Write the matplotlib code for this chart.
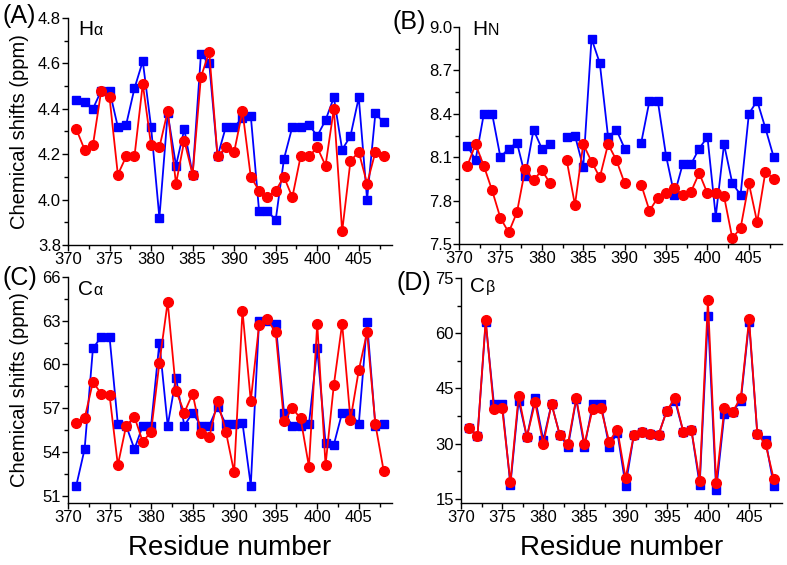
import matplotlib
matplotlib.use("Agg")
import matplotlib.pyplot as plt
import numpy as np
from matplotlib.ticker import MultipleLocator

plt.rcParams["font.family"] = ["Liberation Sans", "DejaVu Sans"]

residues = np.arange(371, 409)
nan = np.nan

ha_blue = [4.44, 4.43, 4.40, 4.48, 4.48, 4.32, 4.33, 4.49, 4.61, 4.32,
           3.92, 4.38, 4.15, 4.31, 4.11, 4.64, 4.60, 4.19, 4.32, 4.32,
           4.36, 4.37, 3.95, 3.95, 3.91, 4.18, 4.32, 4.32, 4.33, 4.28,
           4.35, 4.45, 4.22, 4.28, 4.45, 4.00, 4.38, 4.34]
ha_red = [4.31, 4.22, 4.24, 4.48, 4.45, 4.11, 4.19, 4.19, 4.51, 4.24,
          4.23, 4.39, 4.07, 4.26, 4.11, 4.54, 4.65, 4.19, 4.23, 4.21,
          4.39, 4.10, 4.04, 4.01, 4.04, 4.10, 4.01, 4.19, 4.19, 4.23,
          4.15, 4.40, 3.86, 4.17, 4.21, 4.07, 4.21, 4.19]

hn_blue = [8.18, 8.08, 8.40, 8.40, 8.10, 8.16, 8.20, 7.97, 8.29, 8.16,
           8.19, nan, 8.24, 8.25, 8.03, 8.92, 8.75, 8.24, 8.29, 8.16,
           nan, 8.20, 8.49, 8.49, 8.11, 7.84, 8.05, 8.05, 8.16, 8.24,
           7.69, 8.19, 7.92, 7.84, 8.40, 8.49, 8.30, 8.10]
hn_red = [8.04, 8.19, 8.04, 7.87, 7.68, 7.58, 7.72, 8.02, 7.94, 8.01,
          7.92, nan, 8.08, 7.77, 8.19, 8.07, 7.96, 8.19, 8.08, 7.92,
          nan, 7.91, 7.73, 7.82, 7.85, 7.89, 7.84, 7.86, 7.99, 7.85,
          7.85, 7.83, 7.54, 7.61, 7.92, 7.65, 8.00, 7.95]

ca_blue = [51.7, 54.2, 61.1, 61.9, 61.9, 55.9, 55.8, 54.2, 55.8, 55.8,
           61.5, 55.8, 59.1, 55.8, 56.7, 55.8, 55.8, 57.1, 55.9, 55.9,
           56.0, 51.7, 63.0, 63.0, 62.8, 56.7, 55.8, 55.8, 55.9, 61.1,
           54.6, 54.5, 56.7, 56.7, 55.9, 62.9, 55.8, 55.9]
ca_red = [56.0, 56.3, 58.8, 58.0, 57.9, 53.1, 55.8, 56.4, 54.7, 55.4,
          60.1, 64.3, 58.2, 56.7, 58.0, 55.3, 55.0, 57.5, 55.4, 52.6,
          63.7, 57.5, 62.7, 63.1, 62.2, 56.1, 57.0, 56.3, 53.0, 62.8,
          53.1, 58.6, 62.8, 56.2, 59.6, 62.2, 55.9, 52.7]

cb_blue = [34.4, 32.0, 63.0, 40.8, 40.8, 18.8, 41.7, 31.8, 42.4, 31.0,
           40.8, 32.4, 29.2, 42.1, 29.0, 40.8, 40.8, 29.2, 33.0, 18.6,
           32.4, 33.3, 32.7, 32.4, 39.0, 41.7, 33.3, 33.6, 18.8, 64.7,
           17.3, 38.1, 38.7, 41.7, 63.0, 32.7, 31.0, 18.6]
cb_red = [34.4, 32.0, 63.6, 39.4, 39.6, 19.5, 43.0, 31.8, 41.2, 30.0,
          40.8, 32.4, 30.0, 42.4, 30.0, 39.4, 39.6, 30.6, 33.8, 20.6,
          32.4, 33.3, 32.7, 32.4, 39.0, 42.4, 33.3, 33.6, 20.0, 68.9,
          19.3, 39.6, 38.7, 42.5, 63.8, 32.7, 29.9, 20.4]

W, H = 787, 565
fig = plt.figure(figsize=(W / 100, H / 100), dpi=100)
renderer = fig.canvas.get_renderer()


def px_axes(l, t, r, b):
    return fig.add_axes([l / W, 1 - b / H, (r - l) / W, (b - t) / H])


panels = [
    # box (px), ylim, ystep, blue, red, letter, atom, sub
    ((68, 18, 392, 245), (3.8, 4.8), 0.2, ha_blue, ha_red, "(A)", "H", "\u03b1"),
    ((459, 27, 782, 244), (7.5, 9.0), 0.3, hn_blue, hn_red, "(B)", "H", "N"),
    ((68, 277, 392, 503), (50.5, 66), 3, ca_blue, ca_red, "(C)", "C", "\u03b1"),
    ((461, 278, 782, 503), (13.9, 75), 15, cb_blue, cb_red, "(D)", "C", "\u03b2"),
]
# letter position, atom label position (px)
letter_pos = [(2, 16), (393, 22), (2, 278), (396, 283)]
atom_pos = [(78, 35), (472, 35), (78, 295), (470, 292)]

for i, (box, ylim, ystep, blue, red, letter, atom, sub) in enumerate(panels):
    ax = px_axes(*box)
    ax.plot(residues, blue, color="#0000ff", marker="s", markersize=6,
            linewidth=1.3)
    ax.plot(residues, red, color="#ff0000", marker="o", markersize=7,
            linewidth=1.3)
    ax.set_xlim(370, 409)
    ax.set_ylim(*ylim)
    ax.xaxis.set_major_locator(MultipleLocator(5))
    ax.xaxis.set_minor_locator(MultipleLocator(2.5))
    ax.yaxis.set_major_locator(MultipleLocator(ystep))
    ax.yaxis.set_minor_locator(MultipleLocator(ystep / 2))
    if ystep < 1:
        ax.yaxis.set_major_formatter(plt.FormatStrFormatter("%.1f"))
    else:
        ax.yaxis.set_major_formatter(plt.FormatStrFormatter("%d"))
    for s in ("top", "right"):
        ax.spines[s].set_visible(False)
    for s in ("left", "bottom"):
        ax.spines[s].set_linewidth(1.0)
    ax.tick_params(which="major", direction="out", length=4, width=1,
                   labelsize=12, pad=1)
    ax.tick_params(which="minor", direction="out", length=3, width=1)

    # atom label with smaller greek / N on the same baseline
    axp, ayp = atom_pos[i]
    t = fig.text(axp / W, 1 - ayp / H, atom, fontsize=15, ha="left",
                 va="baseline")
    bb = t.get_window_extent(renderer)
    fig.text(bb.x1 / W + 0.5 / W, 1 - ayp / H, sub, fontsize=11.5,
             ha="left", va="baseline")

    lx, ly = letter_pos[i]
    fig.text(lx / W, 1 - ly / H, letter, fontsize=18, ha="left",
             va="center")

    if i % 2 == 0:
        fig.text(20 / W, 1 - ((box[1] + box[3]) / 2) / H,
                 "Chemical shifts (ppm)", rotation=90, fontsize=14.5,
                 ha="center", va="center")
    if i >= 2:
        fig.text(((box[0] + box[2]) / 2) / W, 1 - 548 / H,
                 "Residue number", fontsize=20, ha="center", va="center")

fig.savefig("out.png", dpi=100)
